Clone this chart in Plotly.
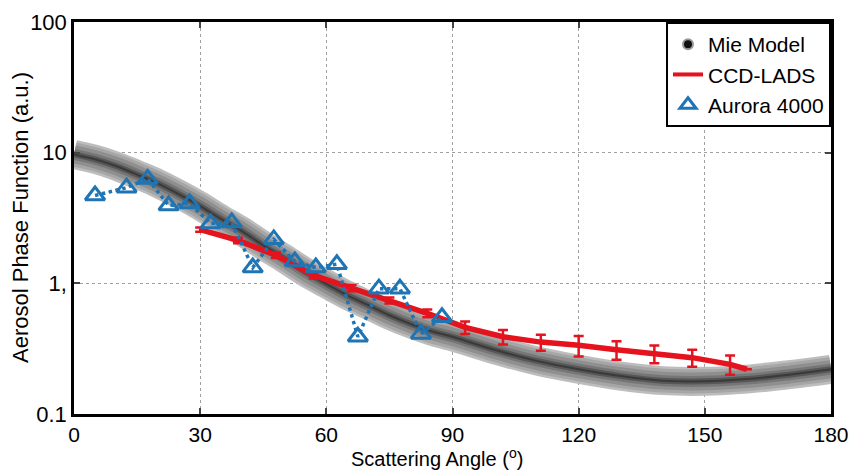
import plotly.graph_objects as go

# ---------------- data ----------------
mie_angle = [0, 5, 10, 15, 20, 25, 30, 35, 40, 45, 50, 55, 60, 65, 70, 75, 80, 85, 90,
             100, 110, 120, 130, 140, 150, 160, 170, 180]
mie_value = [9.7, 8.9, 7.9, 6.8, 5.8, 4.8, 3.9, 3.1, 2.5, 1.95, 1.55, 1.22, 0.99, 0.81, 0.68,
             0.57, 0.49, 0.43, 0.39, 0.31, 0.255, 0.22, 0.195, 0.18, 0.178, 0.185, 0.2, 0.22]

ccd_angle = [30, 39, 48, 57, 66, 75, 84, 93, 102, 111, 120, 129, 138, 147, 156, 160]
ccd_value = [2.58, 2.13, 1.64, 1.15, 0.92, 0.74, 0.59, 0.46, 0.39, 0.355, 0.336, 0.31, 0.29, 0.27, 0.24, 0.22]
ccd_error = [0.1, 0.1, 0.08, 0.06, 0.05, 0.04, 0.04, 0.05, 0.05, 0.05, 0.06, 0.05, 0.045, 0.04, 0.04, 0.0]

aurora_angle = [5, 12.5, 17.5, 22.5, 27.5, 32.5, 37.5, 42.5, 47.5, 52.5, 57.5, 62.5, 67.5,
                72.5, 77.5, 82.5, 87.5]
aurora_value = [4.7, 5.4, 6.3, 3.94, 4.08, 2.87, 2.92, 1.32, 2.17, 1.47, 1.32, 1.40, 0.39,
                0.91, 0.91, 0.41, 0.55]

x_ticks = [0, 30, 60, 90, 120, 150, 180]
y_tickvals = [0.1, 1, 10, 100]
y_ticktext = ["0.1", "1,", "10", "100"]

RED = "#e5131d"
BLUE = "#1f74b4"
REG = "Liberation Sans, Arial, sans-serif"

fig = go.Figure()

# Mie model band (layered to imitate blurred gray band)
band_layers = [(29, "#bdbdbd"), (24, "#a6a6a6"), (18, "#8f8f8f"), (11, "#767676"), (6, "#575757"), (2, "#3a3a3a")]
for w, c in band_layers:
    fig.add_trace(go.Scatter(x=mie_angle, y=mie_value, mode="lines",
                             line=dict(color=c, width=w, shape="spline"),
                             showlegend=False, hoverinfo="skip"))

# CCD-LADS
fig.add_trace(go.Scatter(x=ccd_angle, y=ccd_value, mode="lines",
                         line=dict(color=RED, width=5.5),
                         error_y=dict(type="data", array=ccd_error, color=RED, thickness=2.5, width=5),
                         showlegend=False))

# Aurora 4000
fig.add_trace(go.Scatter(x=aurora_angle, y=aurora_value, mode="lines+markers",
                         line=dict(color=BLUE, width=3.5, dash="dot"),
                         marker=dict(symbol="triangle-up-open", size=17, color=BLUE,
                                     line=dict(color=BLUE, width=3)),
                         showlegend=False))

# legend entries
fig.add_trace(go.Scatter(x=[None], y=[None], mode="markers", name="Mie Model",
                         marker=dict(symbol="circle", size=10, color="#111111",
                                     line=dict(color="#9a9a9a", width=2))))
fig.add_trace(go.Scatter(x=[None], y=[None], mode="lines", name="CCD-LADS",
                         line=dict(color=RED, width=4)))
fig.add_trace(go.Scatter(x=[None], y=[None], mode="markers", name="Aurora 4000",
                         marker=dict(symbol="triangle-up-open", size=14, color=BLUE,
                                     line=dict(color=BLUE, width=3))))

fig.update_layout(
    width=851, height=475,
    margin=dict(l=74, r=20, t=22, b=61, autoexpand=False),
    paper_bgcolor="white", plot_bgcolor="white",
    font=dict(family=REG, color="black", size=21),
    legend=dict(x=1, y=1, xanchor="right", yanchor="top",
                bgcolor="white", bordercolor="black", borderwidth=2,
                font=dict(size=21, family=REG),
                itemwidth=30, tracegroupgap=0),
    xaxis=dict(range=[0, 180], tickvals=x_ticks, ticks="inside", ticklen=6, tickwidth=2,
               showline=True, linecolor="black", linewidth=2.5, mirror="ticks",
               showgrid=True, gridcolor="#a0a0a0", gridwidth=1, griddash="dot",
               zeroline=False, automargin=False,
               tickfont=dict(family=REG, size=21)),
    yaxis=dict(type="log", range=[-1, 2], tickvals=y_tickvals, ticktext=y_ticktext,
               ticks="inside", ticklen=6, tickwidth=2,
               showline=True, linecolor="black", linewidth=2.5, mirror="ticks",
               showgrid=True, gridcolor="#a0a0a0", gridwidth=1, griddash="dot",
               zeroline=False, automargin=False, tickfont=dict(size=22, family=REG)),
    annotations=[
        dict(text="Scattering Angle (<sup>o</sup>)", xref="paper", yref="paper",
             x=0.48, y=0, yshift=-43, xanchor="center", yanchor="middle", showarrow=False,
             font=dict(family=REG, size=20)),
        dict(text="Aerosol Phase Function (a.u.)", xref="paper", yref="paper",
             x=0, y=0.5, xshift=-54, xanchor="center", yanchor="middle", showarrow=False,
             textangle=-90, font=dict(family=REG, size=22)),
    ],
)

fig.write_html("out.html", config={"displayModeBar": False},
               post_script="document.body.style.margin='0px';document.body.style.overflow='hidden';")
